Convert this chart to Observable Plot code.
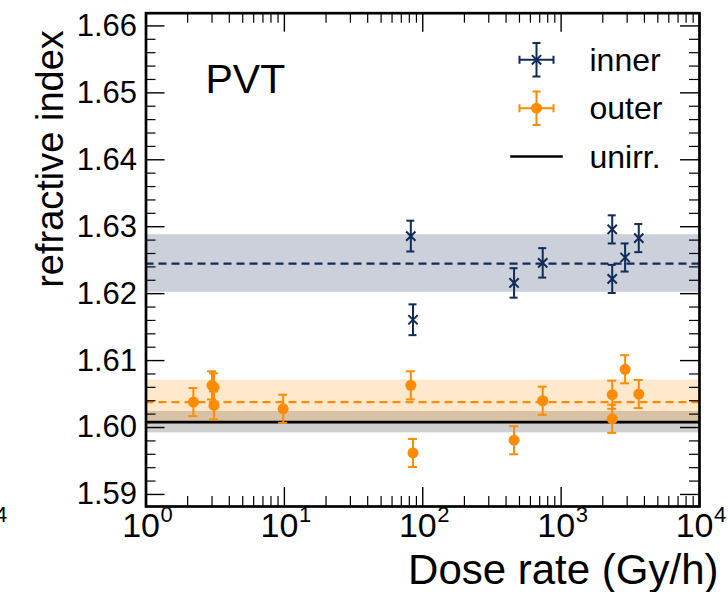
<!DOCTYPE html>
<html>
<head>
<meta charset="utf-8">
<script src="https://cdn.jsdelivr.net/npm/d3@7"></script>
<script src="https://cdn.jsdelivr.net/npm/@observablehq/plot@0.6"></script>
<style>
  html, body { margin: 0; padding: 0; background: white; }
</style>
</head>
<body>
<div id="chart"></div>
<script>
// ---- data ----
const innerDose = [82, 85, 457, 736, 2340, 2340, 2900, 3640];
const innerN    = [1.6286, 1.6161, 1.6216, 1.6246, 1.6296, 1.6222, 1.6254, 1.6283];
const innerErr  = [0.0023, 0.0023, 0.0022, 0.0022, 0.0021, 0.0021, 0.0021, 0.0021];

const outerDose = [2.2, 3.0, 3.1, 3.1, 9.8, 82, 85, 457, 736, 2340, 2340, 2900, 3640];
const outerN    = [1.6038, 1.6063, 1.6060, 1.6033, 1.6028, 1.6063, 1.5962, 1.5981, 1.6040, 1.6049, 1.6013, 1.6087, 1.6050];
const outerErr  = [0.0021, 0.0021, 0.0021, 0.0021, 0.0021, 0.0021, 0.0021, 0.0021, 0.0021, 0.0021, 0.0021, 0.0021, 0.0021];

const bandNames = ["unirr.", "outer", "inner"];
const bandMean  = [1.6008, 1.6038, 1.6245];
const bandSigma = [0.0016, 0.0033, 0.0043];

const yMajor = [1.59, 1.60, 1.61, 1.62, 1.63, 1.64, 1.65, 1.66];
const xMajor = [1, 10, 100, 1000, 10000];
const xTickExp = ["0", "1", "2", "3", "4"];
const legendLabels = ["inner", "outer", "unirr."];

// ---- styles ----
const NAVY = "#102b57";
const ORANGE = "#ff8c00";
const FONT = "Liberation Sans, Arial, Helvetica, sans-serif";

const W = 728, H = 592;
const mL = 145.5, mR = 29, mT = 12.7, mB = 86;
const innerW = W - mL - mR, innerH = H - mT - mB;
const yDomain = [1.5882, 1.6619];

const yMinor = d3.range(1.590, 1.6615, 0.002).map(v => +v.toFixed(3))
  .filter(v => v > yDomain[0] && v < yDomain[1] && !yMajor.some(m => Math.abs(m - v) < 1e-6));
const xMinor = [];
for (const m of [1, 10, 100, 1000]) for (let k = 2; k <= 9; k++) xMinor.push(k * m);

const inner = innerDose.map((d, i) => ({dose: d, n: innerN[i], e: innerErr[i]}));
const outer = outerDose.map((d, i) => ({dose: d, n: outerN[i], e: outerErr[i]}));
const bands = bandNames.map((b, i) => ({name: b, mean: bandMean[i], s: bandSigma[i]}));
const bandColor = {"unirr.": "black", "outer": ORANGE, "inner": NAVY};
const bandOpacity = {"unirr.": 0.19, "outer": 0.2, "inner": 0.22};

const majLen = 19, minLen = 10;

function errorBars(data, color, cap) {
  return [
    Plot.ruleX(data, {x: "dose", y1: d => d.n - d.e, y2: d => d.n + d.e, stroke: color, strokeWidth: 2}),
    Plot.ruleY(data, {x1: "dose", x2: "dose", y: d => d.n - d.e, insetLeft: -cap, insetRight: -cap, stroke: color, strokeWidth: 2}),
    Plot.ruleY(data, {x1: "dose", x2: "dose", y: d => d.n + d.e, insetLeft: -cap, insetRight: -cap, stroke: color, strokeWidth: 2})
  ];
}

const errCross = {
  draw(ctx) {
    const w = 17, h = 16.7, c = 4;
    ctx.moveTo(-w, 0); ctx.lineTo(w, 0);
    ctx.moveTo(0, -h); ctx.lineTo(0, h);
    ctx.moveTo(-c, -h); ctx.lineTo(c, -h);
    ctx.moveTo(-c, h); ctx.lineTo(c, h);
    ctx.moveTo(-w, -c); ctx.lineTo(-w, c);
    ctx.moveTo(w, -c); ctx.lineTo(w, c);
  }
};
const hLine = {
  draw(ctx) { ctx.moveTo(-26.3, 0); ctx.lineTo(26.3, 0); }
};

// legend anchor (pixel offsets relative to the frame's top-left)
const legX = 536 - mL, legTextX = 589 - mL;
const legY = [59.3 - mT, 107.7 - mT, 156 - mT];
const legBase = [70.5 - mT, 118.8 - mT, 167.5 - mT];

const chart = Plot.plot({
  width: W, height: H,
  marginLeft: mL, marginRight: mR, marginTop: mT, marginBottom: mB,
  style: {fontFamily: FONT, background: "white", color: "black"},
  x: {type: "log", domain: [1, 1e4], axis: null},
  y: {domain: yDomain},
  marks: [
    // bands
    ...bands.map(b => Plot.rect([b], {y1: d => d.mean - d.s, y2: d => d.mean + d.s, fill: bandColor[b.name], fillOpacity: bandOpacity[b.name]})),
    // mean lines
    Plot.ruleY([bands[0]], {y: "mean", stroke: "black", strokeWidth: 2.6}),
    Plot.ruleY([bands[1]], {y: "mean", stroke: ORANGE, strokeWidth: 2.2, strokeDasharray: "8,5"}),
    Plot.ruleY([bands[2]], {y: "mean", stroke: NAVY, strokeWidth: 2.2, strokeDasharray: "8,5"}),
    // error bars + points
    ...errorBars(outer, ORANGE, 4.5),
    Plot.dot(outer, {x: "dose", y: "n", r: 5.5, fill: ORANGE, stroke: "none"}),
    ...errorBars(inner, NAVY, 4),
    Plot.dot(inner, {x: "dose", y: "n", symbol: "times", r: 4.3, stroke: NAVY, strokeWidth: 2}),
    // ticks (inward, all four sides)
    Plot.tickX(xMajor, {x: d => d, insetTop: innerH - majLen, stroke: "black", strokeWidth: 1.4}),
    Plot.tickX(xMinor, {x: d => d, insetTop: innerH - minLen, stroke: "black", strokeWidth: 1.2}),
    Plot.tickX(xMajor, {x: d => d, insetBottom: innerH - majLen, stroke: "black", strokeWidth: 1.4}),
    Plot.tickX(xMinor, {x: d => d, insetBottom: innerH - minLen, stroke: "black", strokeWidth: 1.2}),
    Plot.tickY(yMajor, {y: d => d, insetRight: innerW - majLen, stroke: "black", strokeWidth: 1.4}),
    Plot.tickY(yMinor, {y: d => d, insetRight: innerW - minLen, stroke: "black", strokeWidth: 1.2}),
    Plot.tickY(yMajor, {y: d => d, insetLeft: innerW - majLen, stroke: "black", strokeWidth: 1.4}),
    Plot.tickY(yMinor, {y: d => d, insetLeft: innerW - minLen, stroke: "black", strokeWidth: 1.2}),
    Plot.frame({stroke: "black", strokeWidth: 2.7}),
    // y tick labels
    Plot.axisY(yMajor, {tickSize: 0, tickPadding: 9, fontSize: 31, tickFormat: d => d.toFixed(2), label: null, fill: "black"}),
    // x tick labels 10^k
    Plot.text(xMajor, {x: d => d, text: () => "10", frameAnchor: "bottom", textAnchor: "end", lineAnchor: "bottom", dx: 14, dy: 30, fontSize: 34, fill: "black"}),
    Plot.text(xMajor, {x: d => d, text: (d, i) => xTickExp[i], frameAnchor: "bottom", textAnchor: "start", lineAnchor: "bottom", dx: 14.5, dy: 15, fontSize: 22, fill: "black"}),
    // clipped fragment of neighbouring panel's tick label
    Plot.text(["4"], {frameAnchor: "bottom-left", textAnchor: "start", lineAnchor: "bottom", dx: -151, dy: 15, fontSize: 22, fill: "black"}),
    // axis labels
    Plot.text(["Dose rate (Gy/h)"], {frameAnchor: "bottom-right", textAnchor: "end", lineAnchor: "bottom", dx: 19, dy: 77, fontSize: 42, fill: "black"}),
    Plot.text(["refractive index"], {frameAnchor: "top-left", rotate: -90, textAnchor: "end", lineAnchor: "bottom", dx: -83, dy: 17, fontSize: 38, fill: "black"}),
    // panel label
    Plot.text(["PVT"], {frameAnchor: "top-left", textAnchor: "start", lineAnchor: "bottom", dx: 59.5, dy: 79.6, fontSize: 41, fill: "black"}),
    // legend
    Plot.dot([0], {frameAnchor: "top-left", dx: legX, dy: legY[0], symbol: errCross, fill: "none", stroke: NAVY, strokeWidth: 2}),
    Plot.dot([0], {frameAnchor: "top-left", dx: legX, dy: legY[0], symbol: "times", r: 4.3, stroke: NAVY, strokeWidth: 2}),
    Plot.dot([0], {frameAnchor: "top-left", dx: legX, dy: legY[1], symbol: errCross, fill: "none", stroke: ORANGE, strokeWidth: 2}),
    Plot.dot([0], {frameAnchor: "top-left", dx: legX, dy: legY[1], r: 5.5, fill: ORANGE, stroke: "none"}),
    Plot.dot([0], {frameAnchor: "top-left", dx: legX, dy: legY[2], symbol: hLine, fill: "none", stroke: "black", strokeWidth: 2.6}),
    ...legendLabels.map((t, i) => Plot.text([t], {frameAnchor: "top-left", textAnchor: "start", lineAnchor: "bottom", dx: legTextX, dy: legBase[i], fontSize: 32, fill: "black"}))
  ]
});
document.getElementById("chart").appendChild(chart);
</script>
</body>
</html>
